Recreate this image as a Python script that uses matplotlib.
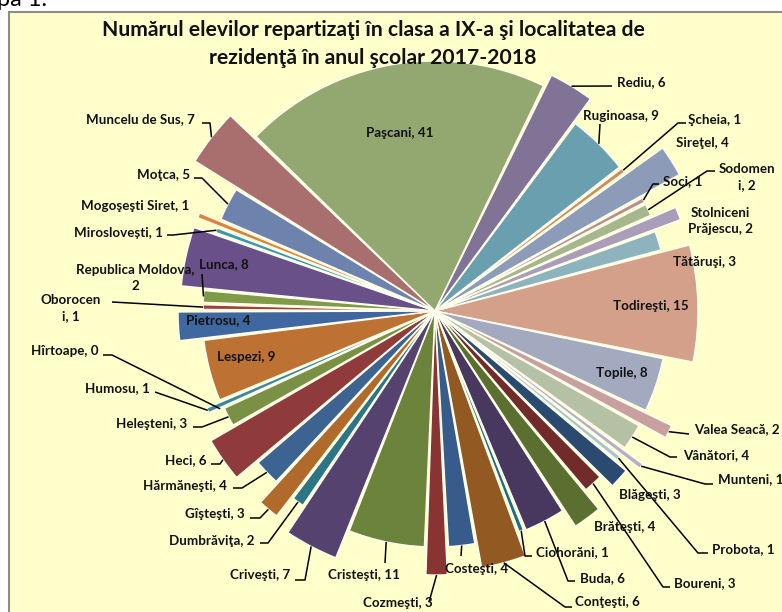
import matplotlib
matplotlib.use("Agg")
import matplotlib.pyplot as plt
from matplotlib.patches import Rectangle
import numpy as np

plt.rcParams['font.family'] = ['Lato', 'DejaVu Sans']

W, H = 782, 612

# data: localitate / numar elevi (ordinea din grafic, in sensul acelor de ceas)
localitati = ['Blăgeşti', 'Boureni', 'Brăteşti', 'Buda', 'Ciohorăni', 'Conţeşti',
              'Costeşti', 'Cozmeşti', 'Cristeşti', 'Criveşti', 'Dumbrăviţa', 'Gîşteşti',
              'Hărmăneşti', 'Heci', 'Heleşteni', 'Hîrtoape', 'Humosu', 'Lespezi',
              'Pietrosu', 'Oborocen\ni', 'Republica Moldova,\n', 'Lunca', 'Miroslovești',
              'Mogoşeşti Siret', 'Moţca', 'Muncelu de Sus', 'Paşcani', 'Rediu',
              'Ruginoasa', 'Şcheia', 'Sireţel', 'Soci', 'Sodomen\ni', 'Stolniceni\nPrăjescu',
              'Tătăruşi', 'Todireşti', 'Topile', 'Valea Seacă', 'Vânători', 'Munteni',
              'Probota']
elevi = [3, 3, 4, 6, 1, 6,
         4, 3, 11, 7, 2, 3,
         4, 6, 3, 0, 1, 9,
         4, 1, 2, 8, 1,
         1, 5, 7, 41, 6,
         9, 1, 4, 1, 2, 2,
         3, 15, 8, 2, 4, 1,
         1]

culori = ['#2B4A6F', '#722B2B', '#5B7030', '#48385F', '#1F6E7E', '#925A22',
          '#375C8C', '#8A3333', '#6C833C', '#56426F', '#2C7585', '#B06A2C',
          '#3D6392', '#8F3A3B', '#7A9145', '#6A5088', '#3A88A0', '#BD7234',
          '#3F68A0', '#A04040', '#7F9A48', '#6A5088', '#3A99B2',
          '#E0833A', '#6D82AD', '#A86F6E', '#93A770', '#817396',
          '#699FAF', '#D18C5E', '#8C9BB8', '#B88E8E', '#A7B78D', '#A99DB9',
          '#8DB3BE', '#D4A08A', '#A3A9BF', '#C9A0A0', '#B5C1A5', '#B8AFC6',
          '#A6C4CC']

# raza fiecarei felii (px)
raze = [249, 234, 257, 237, 236, 261,
        236, 264, 236, 266, 235, 259,
        233, 259, 232, 236, 248, 233,
        257, 232, 232, 255, 233,
        255, 233, 283, 250, 263,
        234, 235, 280, 236, 236, 262,
        234, 263, 233, 263, 234, 258,
        235]

# pozitia etichetelor (px, imagine) si liniile de legatura
etichete_xy = {
    'Blăgeşti': (650, 495), 'Boureni': (705, 583), 'Brăteşti': (625, 527),
    'Buda': (603, 578), 'Ciohorăni': (572, 552), 'Conţeşti': (607, 602),
    'Costeşti': (477, 569), 'Cozmeşti': (398, 603), 'Cristeşti': (364, 575),
    'Criveşti': (260, 575), 'Dumbrăviţa': (212, 541), 'Gîşteşti': (215, 514),
    'Hărmăneşti': (185, 486), 'Heci': (186, 460), 'Heleşteni': (152, 424),
    'Hîrtoape': (65, 351), 'Humosu': (117, 388), 'Lespezi': (246, 357),
    'Pietrosu': (218, 320), 'Oborocen\ni': (71, 308), 'Republica Moldova,\n': (135, 278),
    'Lunca': (224, 264), 'Miroslovești': (118, 233), 'Mogoşeşti Siret': (135, 206),
    'Moţca': (164, 175), 'Muncelu de Sus': (140, 119), 'Paşcani': (400, 133),
    'Rediu': (641, 82), 'Ruginoasa': (621, 116), 'Şcheia': (715, 120),
    'Sireţel': (702, 143), 'Soci': (683, 181), 'Sodomen\ni': (747, 177),
    'Stolniceni\nPrăjescu': (720, 221), 'Tătăruşi': (705, 262), 'Todireşti': (651, 306),
    'Topile': (622, 373), 'Valea Seacă': (737, 429), 'Vânători': (716, 455),
    'Munteni': (750, 479), 'Probota': (743, 549),
}
linii = {
    'Rediu': [(612, 86)], 'Ruginoasa': [(600, 124)], 'Şcheia': [(686, 123), (678, 123)],
    'Soci': [(659, 184), (653, 184)], 'Sodomen\ni': [(715, 171), (707, 171)],
    'Valea Seacă': [(689, 434)], 'Vânători': [(677, 457), (670, 457)],
    'Munteni': [(713, 484), (705, 484)], 'Probota': [(708, 553), (698, 553)],
    'Boureni': [(670, 587), (663, 587)], 'Buda': [(575, 581), (568, 581)],
    'Ciohorăni': [(532, 556), (525, 556)], 'Conţeşti': [(572, 607), (565, 607)],
    'Costeşti': [(461, 556)], 'Cozmeşti': [(429, 602)], 'Cristeşti': [(385, 563)],
    'Criveşti': [(295, 580), (305, 580)], 'Dumbrăviţa': [(260, 543), (268, 543)],
    'Gîşteşti': [(250, 518), (260, 518)], 'Hărmăneşti': [(233, 488), (242, 488)],
    'Heci': [(211, 464), (220, 464)], 'Heleşteni': [(193, 427), (202, 427)],
    'Hîrtoape': [(103, 355), (112, 355)], 'Humosu': [(155, 392)],
    'Oborocen\ni': [(112, 302)], 'Republica Moldova,\n': [(202, 274)],
    'Miroslovești': [(167, 235), (173, 235)], 'Moţca': [(194, 178), (202, 178)],
    'Muncelu de Sus': [(202, 123), (210, 123)],
}

def P(x, y):
    return x, H - y

centru = P(435, 311)
fundal = '#FFFFCC'

fig = plt.figure(figsize=(W / 100, H / 100), dpi=100)
fig.patch.set_facecolor('white')
ax = fig.add_axes([0, 0, 1, 1])

wedges, _ = ax.pie(elevi, colors=culori, startangle=-39.6, counterclock=False,
                   center=centru, radius=1,
                   wedgeprops=dict(edgecolor='#FFFFEE', linewidth=1.0))
ax.set_xlim(0, W)
ax.set_ylim(0, H)
ax.set_aspect('equal')
ax.axis('off')

ax.add_patch(Rectangle((9, -10), W + 20, H - 12 + 10, facecolor=fundal,
                       edgecolor='#8C8C8C', linewidth=1.5, zorder=0))

gap = 0.3
for w, v, r, nume in zip(wedges, elevi, raze, localitati):
    w.set_radius(r)
    w.set_zorder(2)
    if v == 0:
        w.set_visible(False)
    else:
        t1, t2 = w.theta1, w.theta2
        w.set_theta1(t1 + gap)
        w.set_theta2(t2 - gap)

font = dict(fontsize=9.6, fontweight='bold', color='#111111')
for w, v, r, nume in zip(wedges, elevi, raze, localitati):
    if nume.endswith('\n'):
        text = nume + str(v)
    else:
        text = nume + ', ' + str(v)
    x, y = etichete_xy[nume]
    if nume == 'Munteni':
        ax.text(718, H - y, text, ha='left', va='center', zorder=5, **font)
    else:
        ax.text(x, H - y, text, ha='center', va='center', linespacing=1.35,
                multialignment='center', zorder=5, **font)
    if nume in linii:
        mid = np.radians((w.theta1 + w.theta2) / 2)
        wx = centru[0] + r * np.cos(mid)
        wy = centru[1] + r * np.sin(mid)
        pts = [P(px, py) for px, py in linii[nume]] + [(wx, wy)]
        ax.plot([p[0] for p in pts], [p[1] for p in pts], color='black',
                linewidth=1.1, zorder=4, solid_capstyle='butt')

ax.text(373, H - 30, 'Numărul elevilor repartizaţi în clasa a IX-a şi localitatea de',
        ha='center', va='center', fontsize=15.2, fontweight='bold', color='#111111')
ax.text(373, H - 58, 'rezidenţă în anul şcolar 2017-2018',
        ha='center', va='center', fontsize=15.2, fontweight='bold', color='#111111')

ax.text(-3, H - 6, 'pa 1.', ha='left', va='baseline', fontsize=17, color='black')

fig.savefig('out.png', dpi=100, facecolor='white')
